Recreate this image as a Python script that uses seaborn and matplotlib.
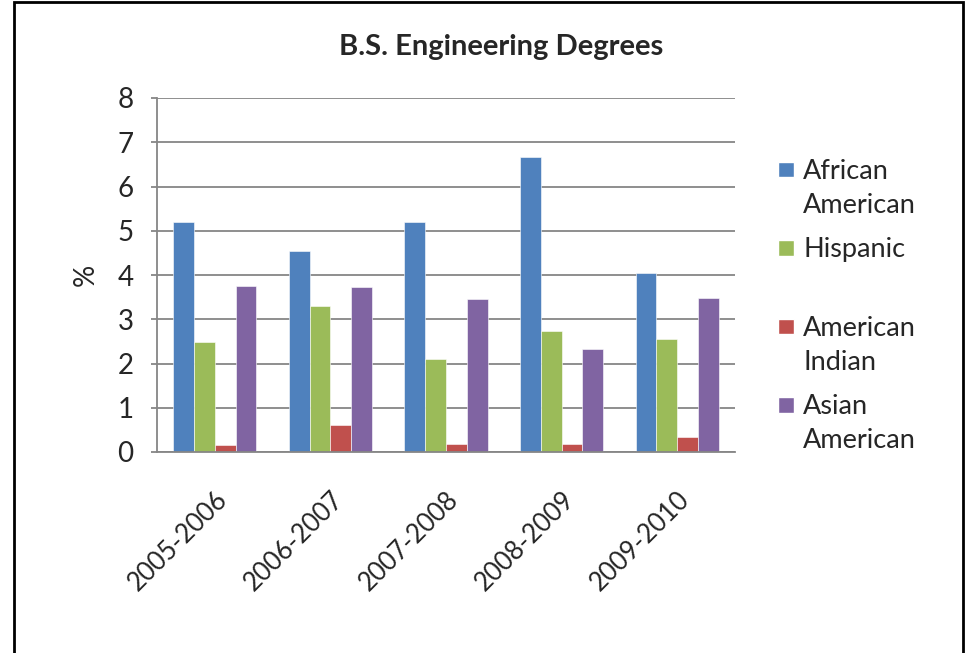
import matplotlib
matplotlib.use("Agg")
import matplotlib.pyplot as plt
import seaborn as sns
import pandas as pd
from matplotlib.patches import Rectangle
from matplotlib.legend_handler import HandlerPatch

years = ["2005-2006", "2006-2007", "2007-2008", "2008-2009", "2009-2010"]
groups = ["African American", "Hispanic", "American Indian", "Asian American"]
legend_labels = ["African\nAmerican", "Hispanic\n ", "American\nIndian", "Asian\nAmerican"]
african_american = [5.19, 4.55, 5.19, 6.66, 4.05]
hispanic = [2.49, 3.31, 2.10, 2.73, 2.56]
american_indian = [0.15, 0.60, 0.17, 0.17, 0.34]
asian_american = [3.76, 3.72, 3.46, 2.33, 3.49]
colors = ["#4F81BD", "#9BBB59", "#C0504D", "#8064A2"]

df = pd.DataFrame({
    "year": years * 4,
    "group": [g for g in groups for _ in years],
    "pct": african_american + hispanic + american_indian + asian_american,
})

sns.set_style("white")
plt.rcParams["font.family"] = ["Lato", "DejaVu Sans"]

fig = plt.figure(figsize=(9.69, 6.53), dpi=100)
ax = fig.add_axes([157 / 969, 1 - 452 / 653, 578 / 969, 354 / 653])

sns.barplot(data=df, x="year", y="pct", hue="group", hue_order=groups,
            order=years, palette=colors, width=0.72, gap=0, ax=ax,
            edgecolor="white", linewidth=0.4, saturation=1, legend=False)

grid_c = "#868686"
ax.set_ylim(0, 8)
ax.set_yticks(range(0, 9))
ax.yaxis.grid(True, color=grid_c, linewidth=1.3)
ax.set_axisbelow(True)
for s in ["top", "right"]:
    ax.spines[s].set_visible(False)
for s in ["left", "bottom"]:
    ax.spines[s].set_color(grid_c)
    ax.spines[s].set_linewidth(1.3)
ax.tick_params(axis="y", length=4, width=1.3, color=grid_c, pad=13,
               labelsize=20, left=True)
ax.tick_params(axis="x", length=0, pad=25, labelsize=18.5)
plt.setp(ax.get_xticklabels(), rotation=45, ha="right", rotation_mode="anchor")
ax.set_xlabel("")
ax.set_ylabel("%", fontsize=20, labelpad=13)

fig.text(0.517, 0.928, "B.S. Engineering Degrees", ha="center", va="center",
         fontsize=21, fontweight="bold")


def top_square(legend, orig_handle, xdescent, ydescent, width, height, fontsize):
    size = 0.58 * fontsize
    return Rectangle((-xdescent, -ydescent + height / 2 + 0.42 * fontsize),
                     size, size)


handles = [Rectangle((0, 0), 1, 1, facecolor=c) for c in colors]
leg = fig.legend(handles, legend_labels, loc="upper left",
                 bbox_to_anchor=(767 / 969, 1 - 148 / 653), frameon=False,
                 fontsize=19.5, handlelength=0.58, handleheight=0.7,
                 handletextpad=0.35, labelspacing=0.72, borderaxespad=0,
                 handler_map={Rectangle: HandlerPatch(patch_func=top_square)})
for t in leg.get_texts():
    t.set_linespacing(1.45)

fig.patches.append(Rectangle((14 / 969, -0.05), 949 / 969, 1.05 - 2 / 653,
                             transform=fig.transFigure, fill=False,
                             edgecolor="black", linewidth=2))

fig.savefig("out.png", dpi=100)
